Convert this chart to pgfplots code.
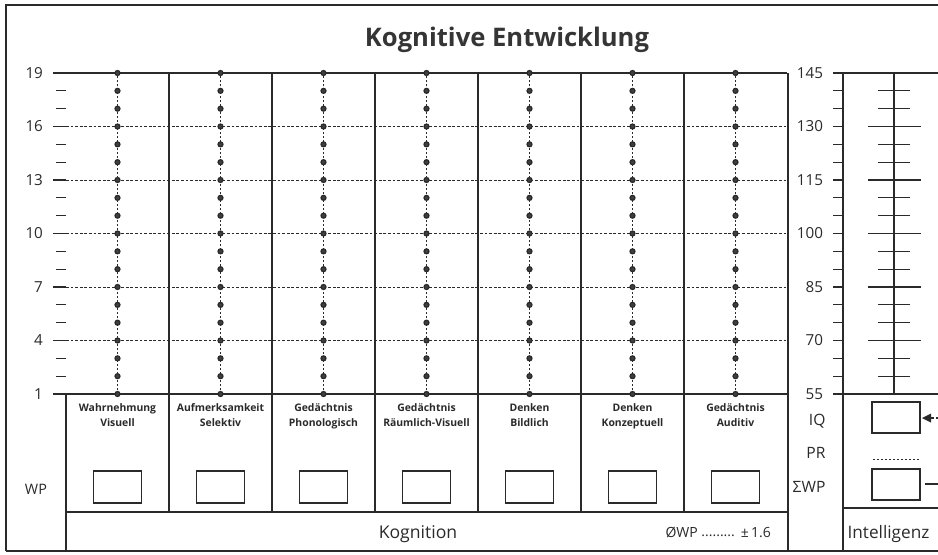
\documentclass[border=0pt]{standalone}
\usepackage{fontspec}
\setmainfont{Open Sans}
\usepackage{pgfplots}
\usepackage{pgfplotstable}
\pgfplotsset{compat=1.18}
\definecolor{ink}{HTML}{2A2A2A}

\pgfplotstableread{
wp
1
2
3
4
5
6
7
8
9
10
11
12
13
14
15
16
17
18
19
}\levels

\newcommand{\lab}{\bfseries\fontsize{5.2}{7.4}\selectfont}
\begin{document}
\begin{tikzpicture}
\path[use as bounding box] (0pt,0pt) rectangle (469pt,-277pt);
\clip (0pt,0pt) rectangle (469pt,-277pt);

% ---------- main WP axis ----------
\begin{axis}[at={(33pt,-197pt)}, anchor=south west, scale only axis,
  width=360.5pt, height=160.5pt,
  xmin=0, xmax=7, ymin=1, ymax=19,
  axis lines*=left, axis line style={draw=none},
  xtick=\empty,
  ytick={1,4,...,19},
  minor ytick={2,3,5,6,8,9,11,12,14,15,17,18},
  tick align=outside,
  major tick length=6.5pt, minor tick length=5pt,
  tick style={line width=0.6pt, color=ink},
  ymajorgrids,
  grid style={dash pattern=on 1.4pt off 0.9pt, line width=0.5pt, color=ink},
  yticklabel style={font=\fontsize{7.6}{8}\selectfont, text=ink, xshift=-1.5pt},
  /pgf/number format/assume math mode=true,
  clip=false]
\pgfplotsinvokeforeach{0,...,6}{
  \addplot[color=ink, line width=0.6pt, dash pattern=on 1pt off 1pt,
    mark=*, mark size=1.25pt, mark options={solid, fill=ink!90, draw=none}]
    table[x expr=#1+0.5, y=wp]{\levels};
}
\draw[line width=0.7pt, color=ink] (axis cs:0,19) -- (axis cs:7,19);
\draw[line width=0.7pt, color=ink] (axis cs:0,1) -- (axis cs:7,1);
\end{axis}

% ---------- IQ axis ----------
\begin{axis}[at={(421.5pt,-197pt)}, anchor=south west, scale only axis,
  width=60pt, height=160.5pt,
  xmin=0, xmax=120, ymin=55, ymax=145,
  axis lines*=left, axis line style={draw=none},
  xtick=\empty,
  ytick={55,70,...,145},
  minor ytick={60,65,75,80,90,95,105,110,120,125,135,140},
  tick align=outside,
  major tick length=5pt, minor tick length=5pt,
  tick style={line width=0.6pt, color=ink},
  yticklabel style={font=\fontsize{7.6}{8}\selectfont, text=ink, xshift=-1.5pt},
  /pgf/number format/assume math mode=true,
  clip=false]
\addplot[color=ink, line width=0.8pt, mark=none] coordinates {(51,55) (51,145)};
\pgfplotsinvokeforeach{70,85,100,115,130}{
  \draw[color=ink, line width=0.6pt] (axis cs:25,#1) -- (axis cs:78,#1);
}
\pgfplotsinvokeforeach{60,65,75,80,90,95,105,110,120,125,135,140}{
  \draw[color=ink, line width=0.6pt] (axis cs:35,#1) -- (axis cs:67,#1);
}
\draw[line width=0.7pt, color=ink] (axis cs:0,145) -- (axis cs:120,145);
\draw[line width=0.7pt, color=ink] (axis cs:0,55) -- (axis cs:120,55);
\end{axis}

% ---------- form decoration ----------
\begin{scope}[x=0.5pt,y=-0.5pt, color=ink, line width=0.6pt]
% frame
\draw (6,551) -- (6,5) -- (950,5);
\draw (6,551) -- (950,551);
% title
\node[font=\fontsize{12.8}{14}\selectfont\bfseries, text=ink!95] at (507,40) {Kognitive Entwicklung};
% column separators
\foreach \c in {169,272,375,478,581,684} { \draw (\c,73) -- (\c,512); }
\draw (788,73) -- (788,551);
\draw (66,394) -- (66,551);
\draw (66,512) -- (788,512);
\draw (843,73) -- (843,551);
% boxes
\foreach \c in {117.5,220.5,323.5,426.5,529.5,632.5,735.5} {
  \draw (\c-24,471) rectangle (\c+24,503);
}
% category labels
\foreach \c/\t in {117.5/{Wahrnehmung\\Visuell},
                   220.5/{Aufmerksamkeit\\Selektiv},
                   323.5/{Gedächtnis\\Phonologisch},
                   426.5/{Gedächtnis\\Räumlich-Visuell},
                   529.5/{Denken\\Bildlich},
                   632.5/{Denken\\Konzeptuell},
                   735.5/{Gedächtnis\\Auditiv}} {
  \node[anchor=north, align=center, font=\lab, text=ink, inner sep=0pt] at (\c,403) {\t};
}
\node[anchor=base, font=\fontsize{7.2}{8}\selectfont, text=ink] at (36,494) {WP};
\node[anchor=base, font=\fontsize{8.8}{10}\selectfont, text=ink] at (418,538) {Kognition};
\node[anchor=base west, font=\fontsize{7}{8}\selectfont, text=ink, inner sep=0pt] at (665,537) {ØWP \raisebox{0.2pt}{.........}\ \,±\,1.6};
% right block
\draw (872,402) rectangle (920,433);
\draw (872,469) rectangle (920,500);
\draw[dash pattern=on 1.2pt off 0.8pt, line width=0.45pt] (873,459) -- (919,459);
\fill (922,418) -- (931,413.5) -- (931,422.5) -- cycle;
\draw[dash pattern=on 1.5pt off 1pt] (931,418) -- (940,418);
\draw (925,484) -- (940,484);
\draw (843,508) -- (950,508);
\node[anchor=base east, font=\fontsize{7.8}{8}\selectfont, text=ink, inner sep=0pt] at (826,425) {IQ};
\node[anchor=base east, font=\fontsize{7.8}{8}\selectfont, text=ink, inner sep=0pt] at (826,458) {PR};
\node[anchor=base east, font=\fontsize{7.8}{8}\selectfont, text=ink, inner sep=0pt] at (826,492) {ΣWP};
\node[anchor=base west, font=\fontsize{8.6}{10}\selectfont, text=ink, inner sep=0pt] at (847,538) {Intelligenz};
\end{scope}
\end{tikzpicture}
\end{document}
